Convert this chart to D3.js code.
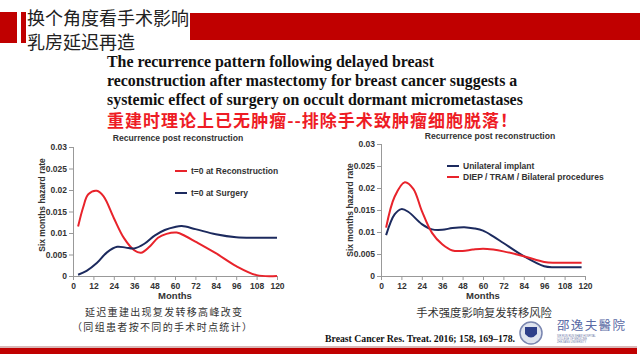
<!DOCTYPE html>
<html><head><meta charset="utf-8">
<script src="https://cdn.jsdelivr.net/npm/d3@7"></script>
<style>html,body{margin:0;padding:0;background:#fff;}svg{display:block;}</style>
</head><body>
<svg id="c" width="640" height="360"></svg>
<script>
const monthsTicks = [0,12,24,36,48,60,72,84,96,108,120];
const yTicks = [0,0.005,0.01,0.015,0.02,0.025,0.03];
const yTickLabels = ["0","0.005","0.01","0.015","0.02","0.025","0.03"];

// Left chart: t=0 at Reconstruction (red) vs t=0 at Surgery (blue)
const leftMonthsRed = [3,6,9,14,18,24,30,36,40,45,50,55,61,66,72,84,96,108,120];
const leftRed =       [0.0115,0.016,0.019,0.0198,0.0185,0.0135,0.0088,0.006,0.0054,0.0068,0.0089,0.0098,0.0101,0.0093,0.008,0.0053,0.0023,0.0002,0.0];
const leftMonthsBlue = [3,8,14,20,26,31,36,42,48,54,60,64,72,84,96,108,120];
const leftBlue =       [0.0003,0.0012,0.003,0.0055,0.0068,0.0066,0.0064,0.0075,0.0094,0.0107,0.0114,0.0116,0.0109,0.0097,0.009,0.0089,0.0089];

// Right chart: Unilateral implant (blue) vs DIEP / TRAM / Bilateral (red)
const rightMonthsBlue = [3,8,12,16,24,30,36,42,49,55,60,66,72,84,96,102,108,118];
const rightBlue =       [0.0093,0.014,0.0152,0.0146,0.0118,0.0106,0.0105,0.0109,0.0111,0.0108,0.0103,0.009,0.0075,0.0045,0.0022,0.002,0.002,0.002];
const rightMonthsRed = [3,8,14,19,24,30,36,42,48,54,60,66,72,84,96,102,108,118];
const rightRed =       [0.011,0.018,0.0213,0.0198,0.0148,0.0098,0.0072,0.0058,0.0057,0.006,0.0062,0.006,0.0056,0.0045,0.0032,0.003,0.003,0.003];

const svg = d3.select("#c");
const RED = "#c00000";

// Header
svg.append("rect").attr("x",0).attr("y",12).attr("width",17).attr("height",31).attr("fill",RED);
svg.append("rect").attr("x",21).attr("y",12).attr("width",5).attr("height",31).attr("fill",RED);
svg.append("rect").attr("x",190).attr("y",13).attr("width",450).attr("height",27).attr("fill",RED);
const hdrFont = "'Noto Sans CJK SC', sans-serif";
svg.append("text").attr("x",27).attr("y",25).attr("font-family",hdrFont).attr("font-size",18).attr("fill","#222").text("换个角度看手术影响");
svg.append("text").attr("x",27).attr("y",49).attr("font-family",hdrFont).attr("font-size",18).attr("fill","#222").text("乳房延迟再造");

// Bold serif lines
const serifLines = ["The recurrence pattern following delayed breast",
  "reconstruction after mastectomy for breast cancer suggests a",
  "systemic effect of surgery on occult dormant micrometastases"];
serifLines.forEach((t,i)=>{
  svg.append("text").attr("x",107).attr("y",67+i*19).attr("font-family","'Liberation Serif', serif")
    .attr("font-weight","bold").attr("font-size",15.9).attr("fill","#111").text(t);
});
svg.append("text").attr("x",107).attr("y",127).attr("font-family",hdrFont).attr("font-weight","bold")
  .attr("font-size",17).attr("fill","#ee1c25").attr("textLength",410).attr("lengthAdjust","spacing")
  .text("重建时理论上已无肿瘤--排除手术致肿瘤细胞脱落！");

const chartFont = "'Liberation Sans', Arial, sans-serif";
const TXT = "#333";

function drawChart(cfg){
  const x = d3.scaleLinear().domain([0,120]).range([cfg.x0,cfg.x1]);
  const y = d3.scaleLinear().domain([0,0.03]).range([cfg.y0,cfg.y1]);
  const g = svg.append("g");
  const xAxis = d3.axisBottom(x).tickValues(monthsTicks).tickSize(4).tickPadding(3).tickFormat(d3.format("d"));
  const gx = g.append("g").attr("transform",`translate(0,${cfg.y0})`).call(xAxis);
  const yAxis = d3.axisLeft(y).tickValues(yTicks).tickSize(4).tickPadding(2).tickFormat((d,i)=>yTickLabels[i]);
  const gy = g.append("g").attr("transform",`translate(${cfg.x0},0)`).call(yAxis);
  [gx,gy].forEach(a=>{
    a.select(".domain").attr("stroke","#999");
    a.selectAll(".tick line").attr("stroke","#999");
    a.selectAll(".tick text").attr("font-family",chartFont).attr("font-weight","bold").attr("font-size",8.5).attr("fill",TXT);
  });
  gx.select(".domain").attr("d",`M${cfg.x0},0.5H${cfg.x1}`);
  gy.select(".domain").attr("d",`M0.5,${cfg.y0}V${cfg.y1}`);

  g.append("text").attr("x",cfg.tx).attr("y",cfg.ty).attr("text-anchor","middle").attr("font-family",chartFont)
    .attr("font-weight","bold").attr("font-size",8.6).attr("fill",TXT).text("Recurrence post reconstruction");
  g.append("text").attr("x",(cfg.x0+cfg.x1)/2).attr("y",299).attr("text-anchor","middle").attr("font-family",chartFont)
    .attr("font-weight","bold").attr("font-size",9.5).attr("fill",TXT).text("Months");
  g.append("text").attr("transform",`translate(${cfg.ylx},${cfg.yly}) rotate(-90)`).attr("text-anchor","middle")
    .attr("font-family",chartFont).attr("font-weight","bold").attr("font-size",8.5).attr("fill",TXT).text("Six months hazard rate");

  const line = d3.line().x(d=>x(d[0])).y(d=>y(d[1])).curve(d3.curveCatmullRom.alpha(0.5));
  cfg.series.forEach(s=>{
    g.append("path").datum(d3.zip(s.m,s.v)).attr("d",line).attr("fill","none").attr("stroke",s.color)
      .attr("stroke-width",2).attr("stroke-linejoin","round");
  });
  cfg.series.forEach(s=>{
    g.append("line").attr("x1",cfg.lx).attr("x2",cfg.lx+12).attr("y1",s.ly).attr("y2",s.ly).attr("stroke",s.color).attr("stroke-width",2);
    g.append("text").attr("x",cfg.lx+16).attr("y",s.ly+3).attr("font-family",chartFont).attr("font-weight","bold")
      .attr("font-size",8.5).attr("fill",TXT).text(s.name);
  });
}

drawChart({x0:73,x1:277,y0:276,y1:147,tx:178,ty:141,ylx:45,yly:205,lx:175,
  series:[
    {name:"t=0 at Reconstruction",m:leftMonthsRed,v:leftRed,color:"#e8232b",ly:171},
    {name:"t=0 at Surgery",m:leftMonthsBlue,v:leftBlue,color:"#1c2a5e",ly:193}
  ]});
drawChart({x0:381,x1:585,y0:276,y1:144,tx:490,ty:139,ylx:353,yly:210,lx:447,
  series:[
    {name:"Unilateral implant",m:rightMonthsBlue,v:rightBlue,color:"#1c2a5e",ly:166},
    {name:"DIEP / TRAM / Bilateral procedures",m:rightMonthsRed,v:rightRed,color:"#e8232b",ly:177}
  ]});

// Captions
const capFont = "'Noto Sans CJK SC', sans-serif";
svg.append("text").attr("x",85).attr("y",316).attr("font-family",capFont).attr("font-size",10)
  .attr("textLength",157).attr("lengthAdjust","spacing").attr("fill","#333").text("延迟重建出现复发转移高峰改变");
svg.append("text").attr("x",72).attr("y",330.5).attr("font-family",capFont).attr("font-size",10)
  .attr("textLength",180).attr("lengthAdjust","spacing").attr("fill","#333").text("（同组患者按不同的手术时点统计）");
svg.append("text").attr("x",484).attr("y",317).attr("text-anchor","middle").attr("font-family",capFont).attr("font-size",11.3).attr("fill","#333").text("手术强度影响复发转移风险");
svg.append("text").attr("x",325).attr("y",342).attr("font-family","'Liberation Serif', serif").attr("font-weight","bold")
  .attr("font-size",10).attr("fill","#111").attr("textLength",190).attr("lengthAdjust","spacingAndGlyphs").text("Breast Cancer Res. Treat. 2016; 158, 169–178.");

// Logo
const lg = svg.append("g");
lg.append("circle").attr("cx",531).attr("cy",333).attr("r",11).attr("fill","#dfe4ef").attr("stroke","#7a86b0").attr("stroke-width",1.5);
lg.append("path").attr("d","M525,327 L537,327 L537,334 Q531,341 525,334 Z").attr("fill","#2d3f8a");
lg.append("text").attr("x",557).attr("y",330).attr("font-family",capFont).attr("font-size",12.5).attr("fill","#5a6aa5").attr("textLength",68).text("邵逸夫醫院");
["SIR RUN RUN SHAW HOSPITAL","COLLEGE OF MEDICINE","ZHEJIANG UNIVERSITY"].forEach((t,i)=>{
  lg.append("text").attr("x",557).attr("y",337+i*3).attr("font-family",chartFont).attr("font-size",2.6).attr("fill","#6a76a5").text(t);
});

// Bottom bar
svg.append("rect").attr("x",0).attr("y",346).attr("width",637).attr("height",2).attr("fill","#d9b8b8");
svg.append("rect").attr("x",0).attr("y",348).attr("width",637).attr("height",6).attr("fill",RED);
</script>
</body></html>
